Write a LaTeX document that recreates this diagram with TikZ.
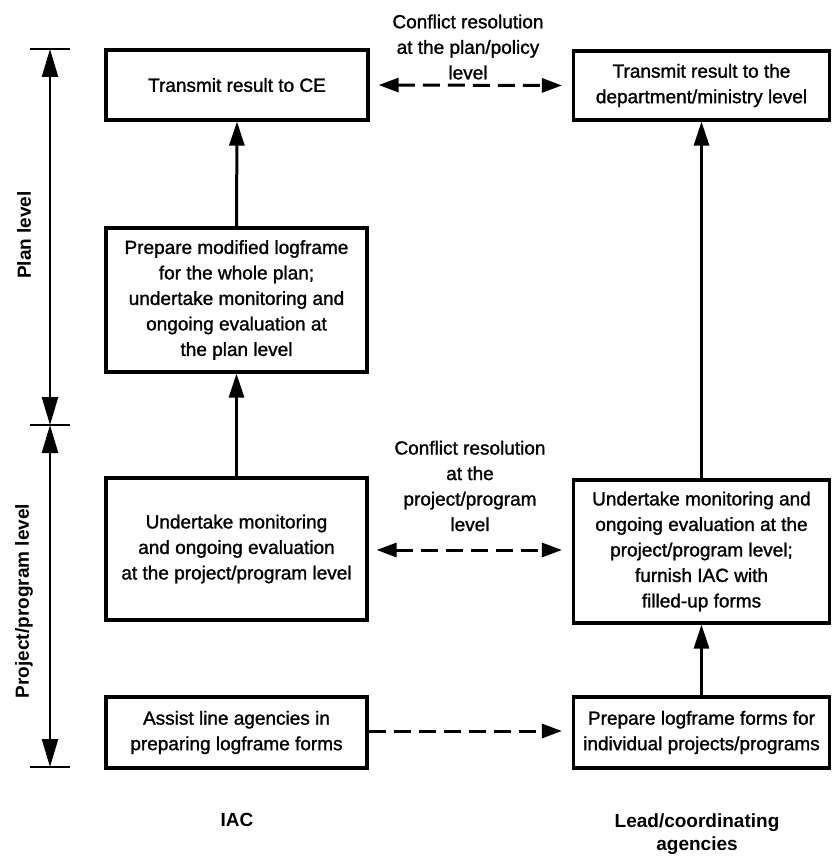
\documentclass[tikz,border=0pt]{standalone}
\usepackage{fontspec}
\setmainfont{Liberation Sans}
\newfontfamily\heavyfont[FakeBold=1.3]{Liberation Sans}
\usetikzlibrary{arrows.meta}
\begin{document}
\begin{tikzpicture}[x=1pt,y=-1pt,
  box/.style={draw, line width=3.2pt, align=center, inner sep=0pt,
    font={\heavyfont\fontsize{19}{25.5}\selectfont}},
  lbl/.style={align=center, font={\heavyfont\fontsize{19}{25.5}\selectfont}},
  blbl/.style={align=center, font={\bfseries\fontsize{19}{23}\selectfont}},
  tip/.style={-{Triangle[length=24pt,width=15pt]}},
  dtip/.style={-{Triangle[length=20pt,width=14pt]}},
  dbtip/.style={{Triangle[length=20pt,width=14pt]}-{Triangle[length=20pt,width=14pt]}},
  sbtip/.style={{Triangle[length=28pt,width=16pt]}-{Triangle[length=28pt,width=16pt]}},
  arr/.style={line width=3pt, tip},
  darr/.style={line width=3pt, dash pattern=on 17pt off 8pt},
  tick/.style={line width=2.6pt}
]
\useasboundingbox (0,0) rectangle (832,858);

% boxes
\node[box, minimum width=262pt, minimum height=70pt] (B1) at (237,85)
  {Transmit result to CE};
\node[box, minimum width=256pt, minimum height=69pt] (B2) at (701.5,85.5)
  {Transmit result to the\\department/ministry level};
\node[box, minimum width=261pt, minimum height=144pt] (B3) at (236.5,300)
  {Prepare modified logframe\\for the whole plan;\\undertake monitoring and\\ongoing evaluation at\\the plan level};
\node[box, minimum width=261pt, minimum height=142pt] (B4) at (236.5,549)
  {Undertake monitoring\\and ongoing evaluation\\at the project/program level};
\node[box, minimum width=256pt, minimum height=143pt] (B5) at (701.5,551.5)
  {Undertake monitoring and\\ongoing evaluation at the\\project/program level;\\furnish IAC with\\filled-up forms};
\node[box, minimum width=261pt, minimum height=71pt] (B6) at (236.5,732.5)
  {Assist line agencies in\\preparing logframe forms};
\node[box, minimum width=256pt, minimum height=71pt] (B7) at (701.5,732.5)
  {Prepare logframe forms for\\individual projects/programs};

% vertical arrows
\draw[arr] (B3.north) -- (B1.south);
\draw[arr] (B4.north) -- (B3.south);
\draw[arr] (B7.north) -- (B5.south);
\draw[arr] (B5.north) -- (B2.south);

% dashed arrows
\draw[darr, dbtip, shorten <=9pt, shorten >=10pt] (B1.east) -- (B2.west);
\draw[darr, dbtip, shorten <=8pt, shorten >=10pt] (B4.east |- 0,550) -- (B5.west |- 0,550);
\draw[darr, dtip, shorten >=10pt] (B6.east |- 0,731) -- (B7.west |- 0,731);

% conflict labels
\node[lbl] (C1) at (468,47) {Conflict resolution\\at the plan/policy\\level};
\node[lbl] (C2) at (470,486) {Conflict resolution\\at the\\project/program\\level};

% column labels
\node[blbl] (IAC) at (237,820) {IAC};
\node[blbl] (LCA) at (697,834) {Lead/coordinating\\agencies};

% level scale
\coordinate (s1) at (50,49);
\coordinate (s2) at (50,425);
\coordinate (s3) at (50,767);
\draw[tick] ([xshift=-20pt]s1) -- ([xshift=20pt]s1);
\draw[tick] ([xshift=-20pt]s2) -- ([xshift=20pt]s2);
\draw[tick] ([xshift=-20pt]s3) -- ([xshift=20pt]s3);
\draw[line width=2.3pt, sbtip] (s1) -- (s2);
\draw[line width=2.3pt, sbtip] (s2) -- (s3);
\node[blbl, rotate=90] (PL) at (24,235) {Plan level};
\node[blbl, rotate=90] (PPL) at (24,601) {Project/program level};
\end{tikzpicture}
\end{document}
